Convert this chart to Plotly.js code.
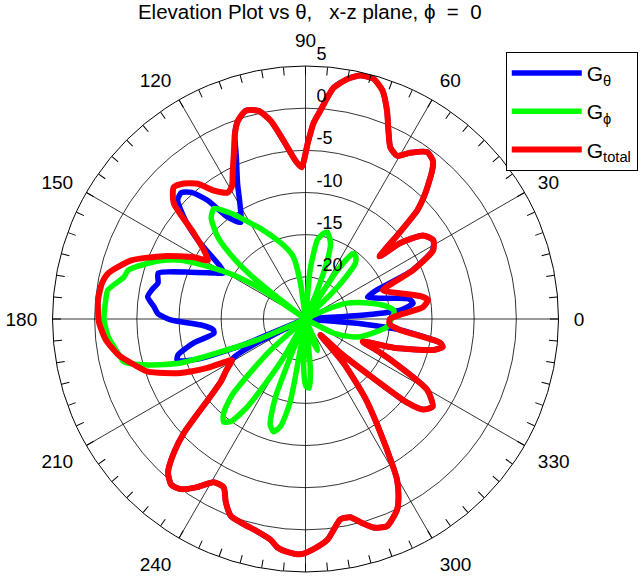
<!DOCTYPE html>
<html>
<head>
<meta charset="utf-8">
<script src="https://cdn.plot.ly/plotly-3.0.1.min.js"></script>
<style>html,body{margin:0;padding:0;background:#fff;}#chart{width:644px;height:577px;}</style>
</head>
<body>
<div id="chart"></div>
<script>
// Angles (deg) and gains (dB)
const thetaTheta = [0,3,4,5.5,8.4,11,15,19.5,22,24.4,28.3,31.7,35.4,38.7,40.2,42.5,44.2,46.4,49.6,51.2,53.9,57.8,60.7,63.7,66.6,68.6,71.4,74.2,77.3,80.1,83.1,85.9,87.7,89.3,91.5,93.6,97,100,102.7,106,108.9,111,113,116.6,120,123.8,127.4,129.5,132,134.5,137.1,140.5,143.8,148.5,150.7,153,157.8,162.7,166.3,169,172,175.5,178,180.4,183.3,186.8,189,192,195.7,198,200.5,202.5,204,206,208,209.3,213,216.5,219.6,223.1,225.4,228.1,231,233.8,237,240.7,244.1,246.5,249.3,253.2,257,261,263,265.5,268.8,272,275.7,279.9,282.7,285.5,288,291.5,295.7,297.6,299.7,300.7,303.5,307,310.8,313,316,319,320.5,322.4,325.5,329.8,333.2,336,338.4,342,346.4,348.5,350,353.4,355,356,360];
const gTheta = [-25,-25,-17,-13.5,-12.1,-12.5,-15.5,-17.2,-16,-11.2,-7.9,-7.2,-7.9,-10.6,-13.5,-10,-6.5,-4.4,-1.8,-0.9,-0.5,-1.7,-2.8,-2.3,-0.3,1.5,3.6,4.6,4.6,3.9,2.6,-0.2,-1.8,-4.2,-7,-6.2,-3.7,-1.1,0.3,0.7,-0.2,-1.6,-4,-7,-9.5,-11.2,-9.8,-6.8,-4.8,-4,-4.3,-6.5,-9.2,-13.2,-13.9,-13,-10.3,-6.7,-7,-6.5,-6.1,-7,-7.5,-9,-12.6,-14,-14,-11.5,-9.3,-9,-11.5,-17,-25,-19,-15.5,-15,-13.8,-12.5,-10,-5.3,-2.8,-0.6,0.3,0,-1.2,-2.8,-2.8,-1.3,0,0.4,0.8,1.5,2.3,2.7,2.9,2.3,1.3,-0.9,-0.9,0.1,1,1.4,0.06,-1.2,-3.1,-4.7,-9,-13.2,-18.1,-22.4,-19,-14,-9.5,-7.4,-6.7,-8.3,-12.5,-15.5,-17.7,-14,-9.4,-8.4,-8.8,-13.7,-18,-25,-25];

const thetaPhi = [0,3,5.8,8,11,14.5,17.5,20.8,24,27,42,45,48,51,54,56.8,59.5,64,67.5,70,71.8,75.8,78,81.4,84.5,88,95,98,101,105,109.5,115,119.8,125.3,129.6,133,137,139.5,141.3,142.5,144,145.5,146.3,148.5,151,154.7,157.5,160.5,164.6,167,171.7,175,180,185,190.3,193.3,196.2,199.4,201.2,203.5,206,218,222,226,229,231.5,234,236.5,240,243,246,249,251.5,254.2,257,259.5,262,265,268,270.5,273,275.5,279,286,289,291,293,296,328,333.4,338,342,348.4,354.4,360];
const gPhi = [-14.8,-14.5,-14.5,-15,-16,-17.4,-18.5,-19.7,-22,-25,-25,-19.5,-16.2,-15.5,-15.4,-18.1,-25,-25,-21.3,-17,-15.5,-14.4,-14.6,-15.5,-19,-25,-25,-20.7,-17.5,-16.3,-15.1,-13.5,-11.9,-9.6,-8,-8.6,-10.8,-13.5,-16.5,-21,-25,-22,-18.2,-15,-12.6,-8.7,-6.8,-5.2,-3.2,-2.9,-1.3,-1.2,-1.1,-1.5,-2.4,-2.9,-5.5,-9.3,-14.2,-18.7,-25,-25,-19,-12.5,-10.2,-9.4,-10,-12.5,-19,-25,-25,-15,-11.8,-11.1,-12,-15,-25,-25,-19,-17,-16.8,-19,-25,-25,-22,-21,-22,-25,-25,-21.3,-19.5,-18.2,-16.8,-15.3,-14.8];

const thetaTotal = [0,3,5.8,8.8,11,15.3,20.4,24.4,28.3,31.7,35.4,38.7,40.2,42.5,44.2,46.4,49.6,51.2,53.9,57.8,60.7,63.7,66.6,68.6,71.4,74.2,77.3,80.1,83.1,85.9,87.7,89.3,91.5,93.6,97,100,102.7,106,108.9,111,113,116.1,119,121.6,125.5,128.5,131.9,135,138.7,142.5,146,149,151,156.1,161.4,166.9,170,174.8,180.8,186,190.8,194.5,198.5,203.4,206.5,209.3,213,216.5,219.6,223.1,225.4,228.1,231,233.8,237,240.7,244.1,246.5,249.3,253.2,257,261,263,265.5,268.8,272,275.7,279.9,282.7,285.5,288,291.5,295.7,297.6,299.7,300.7,303.5,307,310.8,313,316,319,320.5,322.4,325.5,329.8,333.2,336,338.4,342,346.4,348.5,350,353.4,356.5,360];
const gTotal = [-15,-13.5,-11,-10.3,-11,-13.4,-15.2,-11,-7.8,-7.2,-7.9,-10.6,-13.5,-10,-6.5,-4.4,-1.8,-0.9,-0.5,-1.7,-2.8,-2.3,-0.3,1.5,3.6,4.6,4.6,3.9,2.6,-0.2,-1.8,-4.2,-7,-6.2,-3.7,-1.1,0.3,0.7,-0.2,-1.6,-3.3,-5.4,-7,-7.4,-6.3,-4.5,-3.4,-2.9,-4.2,-8.3,-10.5,-11.5,-9.9,-6.6,-3.2,-1,-0.5,-0.3,-0.5,-1.2,-2.4,-3.8,-5.3,-8.9,-12,-15,-13.8,-12.5,-10,-5.3,-2.8,-0.6,0.3,0,-1.2,-2.8,-2.8,-1.3,0,0.4,0.8,1.5,2.3,2.7,2.9,2.3,1.3,-0.9,-0.9,0.1,1,1.4,0.06,-1.2,-3.1,-4.7,-9,-13.2,-18.1,-22.4,-19,-14,-9.5,-7.4,-6.7,-8.3,-12.5,-15.5,-17.7,-14,-9.4,-8.4,-8.8,-13.7,-15,-15];

const angleTicks = [0,30,60,90,120,150,180,210,240,270,300,330];
const angleLabels = ['0','30','60','90','120','150','180','210','240','','300','330'];
const radialTicks = [-20,-15,-10,-5,0,5];
const radialLabels = ['-20','-15','-10','-5','0','5'];

const FONT = 'Liberation Sans, Arial, sans-serif';
const lineShape = {shape:'spline', smoothing:0.6};

const data = [
  {type:'scatterpolar', mode:'lines', r:gTheta, theta:thetaTheta, name:'G<sub>θ</sub>',
   line:Object.assign({color:'#0000ff', width:5.5}, lineShape), legendgroup:'a', hoverinfo:'skip'},
  {type:'scatterpolar', mode:'lines', r:gPhi, theta:thetaPhi, name:'G<sub>ϕ</sub>',
   line:Object.assign({color:'#00ff00', width:5.5}, lineShape), legendgroup:'b', hoverinfo:'skip'},
  {type:'scatterpolar', mode:'lines', r:gTotal, theta:thetaTotal, name:'G<sub>total</sub>',
   line:Object.assign({color:'#ff0000', width:6}, lineShape), legendgroup:'c', hoverinfo:'skip'},
  {type:'scatterpolar', mode:'lines', r:[], theta:[], subplot:'polar2', showlegend:false, hoverinfo:'skip'}
];

const radialRange = [-25,5];
// radial labels sit a half line above their ring, as in the reference
const radialText = radialLabels.map(function(s){ return s + '<br>\u00a0'; });

const layout = {
  width:644, height:577,
  margin:{l:52, r:85, t:66, b:5},
  paper_bgcolor:'#fff',
  font:{family:FONT, size:19, color:'#000'},
  title:{text:'Elevation Plot vs θ,\u00a0\u00a0 x-z plane, ϕ\u00a0 =\u00a0 0', font:{family:FONT, size:20.5, color:'#000'},
         x:0.481, xanchor:'center', xref:'container', y:0.979, yref:'container', yanchor:'middle'},
  showlegend:true,
  legend:{x:0.895, xanchor:'left', y:1.028, yanchor:'top', bgcolor:'#fff', bordercolor:'#000', borderwidth:1,
          font:{family:FONT, size:21, color:'#000'}, tracegroupgap:8, itemwidth:70},
  polar:{
    bgcolor:'rgba(0,0,0,0)',
    domain:{x:[0,1], y:[0,1]},
    angularaxis:{rotation:0, direction:'counterclockwise', tickmode:'array', tickvals:angleTicks, ticktext:angleLabels,
                 ticks:'outside', ticklen:11, tickcolor:'rgba(0,0,0,0)', showline:false, showgrid:true, gridcolor:'#000', gridwidth:0.8,
                 tickfont:{family:FONT, size:19, color:'#000'}},
    radialaxis:{range:radialRange, angle:90, tickangle:90, tickmode:'array', tickvals:radialTicks, ticktext:radialText,
                ticks:'outside', ticklen:7, tickcolor:'rgba(0,0,0,0)', showline:false, showgrid:true, gridcolor:'#000', gridwidth:0.8,
                tickfont:{family:FONT, size:18, color:'#000'}}
  },
  polar2:{
    bgcolor:'rgba(0,0,0,0)',
    domain:{x:[0,1], y:[0,1]},
    angularaxis:{rotation:0, direction:'counterclockwise', tickmode:'linear', tick0:0, dtick:5,
                 ticks:'inside', ticklen:8, tickwidth:1, tickcolor:'#000', showticklabels:false,
                 showgrid:false, showline:true, linecolor:'#000', linewidth:1},
    radialaxis:{range:radialRange, visible:false}
  }
};

Plotly.newPlot('chart', data, layout, {staticPlot:true, displayModeBar:false});
</script>
</body>
</html>
